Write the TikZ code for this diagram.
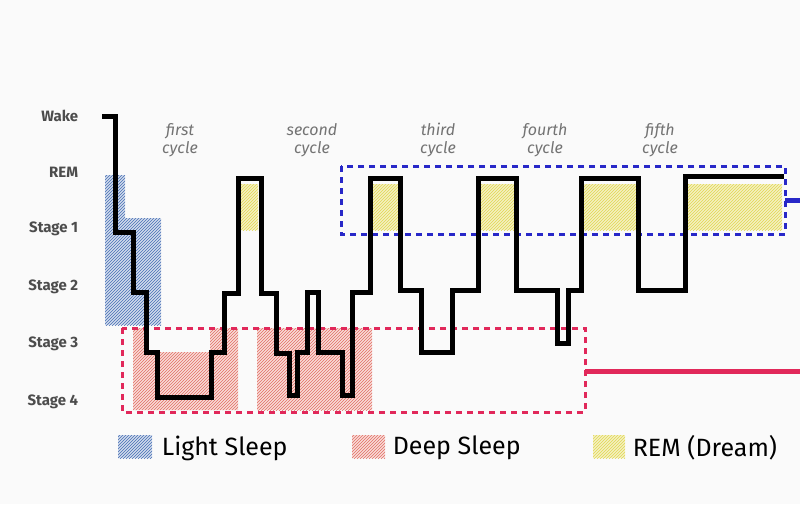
\documentclass[tikz,border=0pt]{standalone}
\usepackage{fontspec}
\setmainfont{Fira Sans}
\usepackage{tikz}
\usetikzlibrary{patterns}
\definecolor{lightblue}{RGB}{70,110,180}
\definecolor{deepred}{RGB}{225,110,100}
\definecolor{remyellow}{RGB}{225,215,80}
\definecolor{boxblue}{RGB}{40,40,200}
\definecolor{boxred}{RGB}{225,40,90}
\tikzset{
  level/.style={anchor=east, text=black!70, font=\bfseries\fontsize{15}{15}\selectfont},
  cycle/.style={text=black!55, font=\itshape\fontsize{16}{18}\selectfont, align=center},
  legend/.style={anchor=west, font=\fontsize{25}{25}\selectfont},
  light/.style={fill=lightblue!25, postaction={pattern=north east lines, pattern color=lightblue}},
  deep/.style={fill=deepred!25, postaction={pattern=north east lines, pattern color=deepred}},
  rem/.style={fill=remyellow!35, postaction={pattern=north east lines, pattern color=remyellow}},
  box/.style={line width=3pt, dash pattern=on 6pt off 5pt},
}
\begin{document}
\begin{tikzpicture}[x=1pt, y=-1pt, line width=5pt]
    \useasboundingbox[fill=black!2] (0,0) rectangle (800,504);

    % draw shaded stages
    \path[light] (105,175) rectangle (125,325);
    \path[light] (125,218) rectangle (161,325);
    \path[deep] (133,328) -- (146,328) -- (146,352) -- (210,352) -- (210,328)
      -- (238,328) -- (238,410) -- (133,410) -- cycle;
    \path[deep] (257,328) rectangle (372,410);
    \foreach \a/\b in {240/258, 372/398, 479/514, 583/636, 687/782}
      \path[rem] (\a,184) rectangle (\b,230);

    % draw boxes
    \draw[boxblue, box] (341,166) rectangle (785,234);
    \draw[boxred, box] (122,328) rectangle (585,412);
    \draw[boxblue, line width=5pt] (785,200) -- (800,200);
    \draw[boxred, line width=5pt] (585,371) -- (800,371);

    % draw hypnogram
    \draw[black, line join=miter] (102,116) -| (115,232) -| (133,292) -| (146,352) -| (157,397)
      -| (211,352) -| (224,293) -| (238,178) -| (261,293) -| (276,353) -| (289,395)
      -| (297,352) -| (307,292) -| (318,352) -| (342,395) -| (352,292) -| (370,178)
      -| (400,290) -| (421,352) -| (452,290) -| (478,178) -| (516,290) -| (557,343)
      -| (568,290) -| (581,178) -| (638,290) -| (685,176) -- (784,176);

    % draw symbols
    \node[level] (wake) at (84,116) {Wake};
    \node[level] (rem) at (84,172) {REM};
    \node[level] (s1) at (84,229) {Stage 1};
    \node[level] (s2) at (84,287) {Stage 2};
    \node[level] (s3) at (84,344) {Stage 3};
    \node[level] (s4) at (84,402) {Stage 4};
    \node[cycle] (c1) at (180,140) {first\\cycle};
    \node[cycle] (c2) at (312,140) {second\\cycle};
    \node[cycle] (c3) at (438,140) {third\\cycle};
    \node[cycle] (c4) at (545,140) {fourth\\cycle};
    \node[cycle] (c5) at (660,140) {fifth\\cycle};

    % draw legend
    \path[light] (118,435) rectangle (152,458);
    \path[deep] (352,435) rectangle (385,458);
    \path[rem] (593,435) rectangle (625,458);
    \node[legend] (l1) at (156,448) {Light Sleep};
    \node[legend] (l2) at (387,448) {Deep Sleep};
    \node[legend] (l3) at (627,448) {REM (Dream)};
\end{tikzpicture}
\end{document}
